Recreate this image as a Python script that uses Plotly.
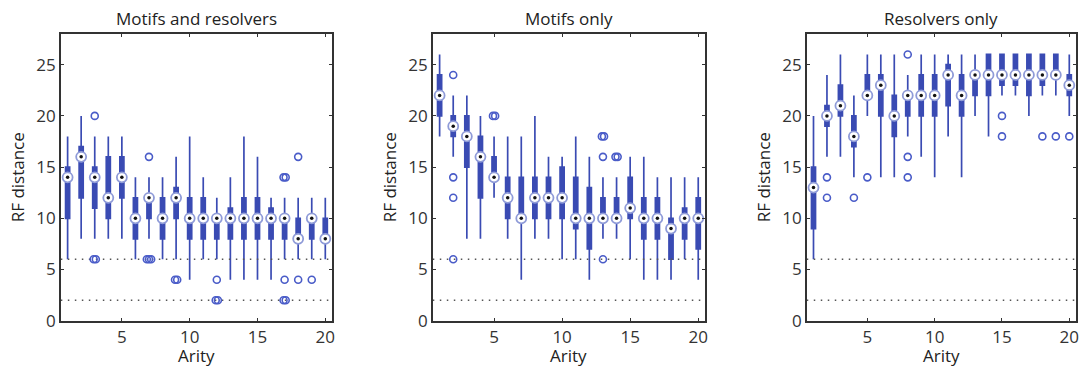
import plotly.graph_objects as go

arity = list(range(1, 21))
titles = ["Motifs and resolvers", "Motifs only", "Resolvers only"]
thresholds = [2, 6]

# Motifs and resolvers
mr_lo = [6, 8, 8, 8, 8, 6, 8, 6, 6, 4, 6, 6, 4, 4, 4, 4, 6, 6, 6, 6]
mr_q1 = [10, 12, 11, 10, 12, 8, 10, 8, 10, 8, 8, 8, 8, 8, 8, 8, 8, 8, 8, 8]
mr_med = [14, 16, 14, 12, 14, 10, 12, 10, 12, 10, 10, 10, 10, 10, 10, 10, 10, 8, 10, 8]
mr_q3 = [15, 17, 15, 16, 16, 12, 12, 12, 13, 12, 12, 10, 11, 12, 12, 11, 10, 10, 10, 10]
mr_hi = [18, 20, 18, 18, 18, 14, 14, 14, 16, 18, 14, 12, 14, 18, 16, 12, 12, 12, 12, 12]
mr_out_x = [3, 3, 3, 7, 7, 7, 7, 9, 9, 12, 12, 12, 17, 17, 17, 17, 17, 18, 18, 19]
mr_out_y = [20, 6, 6, 16, 6, 6, 6, 4, 4, 4, 2, 2, 14, 14, 4, 2, 2, 16, 4, 4]

# Motifs only
mo_lo = [18, 16, 8, 8, 12, 8, 4, 8, 8, 6, 6, 4, 8, 8, 6, 4, 4, 4, 6, 4]
mo_q1 = [20, 18, 15, 12, 14, 10, 10, 10, 10, 10, 9, 7, 10, 10, 10, 8, 8, 6, 8, 7]
mo_med = [22, 19, 18, 16, 14, 12, 10, 12, 12, 12, 10, 10, 10, 10, 11, 10, 10, 9, 10, 10]
mo_q3 = [24, 20, 20, 18, 16, 14, 14, 14, 14, 15, 14, 13, 12, 12, 14, 12, 12, 10, 11, 12]
mo_hi = [26, 22, 22, 20, 18, 18, 18, 20, 16, 16, 18, 16, 14, 14, 16, 16, 14, 14, 14, 14]
mo_out_x = [2, 2, 2, 2, 5, 5, 13, 13, 13, 13, 14, 14]
mo_out_y = [24, 14, 12, 6, 20, 20, 18, 18, 16, 6, 16, 16]

# Resolvers only
ro_lo = [6, 16, 16, 14, 20, 14, 14, 18, 16, 14, 18, 14, 20, 18, 22, 22, 20, 22, 22, 20]
ro_q1 = [9, 19, 20, 17, 22, 20, 18, 20, 20, 20, 21, 20, 22, 22, 23, 23, 22, 23, 24, 22]
ro_med = [13, 20, 21, 18, 22, 23, 20, 22, 22, 22, 24, 22, 24, 24, 24, 24, 24, 24, 24, 23]
ro_q3 = [15, 21, 23, 20, 24, 24, 22, 22, 24, 24, 25, 24, 24, 26, 26, 26, 26, 26, 26, 24]
ro_hi = [20, 24, 26, 22, 26, 26, 26, 24, 26, 26, 26, 26, 26, 26, 26, 26, 26, 26, 26, 26]
ro_out_x = [2, 2, 4, 5, 8, 8, 8, 15, 15, 18, 19, 20]
ro_out_y = [14, 12, 12, 14, 26, 16, 14, 20, 18, 18, 18, 18]

panels = [
    (mr_lo, mr_q1, mr_med, mr_q3, mr_hi, mr_out_x, mr_out_y),
    (mo_lo, mo_q1, mo_med, mo_q3, mo_hi, mo_out_x, mo_out_y),
    (ro_lo, ro_q1, ro_med, ro_q3, ro_hi, ro_out_x, ro_out_y),
]

W, H = 1087, 368
K = 0.971  # observed vertical rendering factor
BLUE = "#3a4bb3"
AXC = "#333333"
FONT = "Open Sans"
FS = 17


def py(px):
    return 1 - (px / K) / H


x_px = [(61, 333), (434, 707), (809, 1079)]
y_dom = [py(321), py(34)]

fig = go.Figure()


def jitter(xs, ys):
    out = []
    for i, (x, y) in enumerate(zip(xs, ys)):
        same = [j for j, (a, b) in enumerate(zip(xs, ys)) if a == x and b == y]
        n = len(same)
        k = same.index(i)
        out.append(x + (k - (n - 1) / 2) * 0.16)
    return out


for p, (lo, q1, med, q3, hi, ox, oy) in enumerate(panels):
    sfx = "" if p == 0 else str(p + 1)
    xa, ya = "x" + sfx, "y" + sfx
    for t in thresholds:
        fig.add_trace(go.Scatter(
            x=[0.5, 20.5], y=[t, t], mode="lines", xaxis=xa, yaxis=ya,
            line=dict(color="#555555", width=1.5, dash="1.5px,5.5px"),
            hoverinfo="skip", showlegend=False))
    fig.add_trace(go.Box(
        x=arity, lowerfence=lo, q1=q1, median=med, q3=q3, upperfence=hi,
        xaxis=xa, yaxis=ya, width=0.3, whiskerwidth=0,
        fillcolor=BLUE, line=dict(color=BLUE, width=1.7),
        boxpoints=False, showlegend=False))
    fig.add_trace(go.Scatter(
        x=jitter(ox, oy), y=oy, mode="markers", xaxis=xa, yaxis=ya,
        marker=dict(symbol="circle-open", size=7, color="#4a5cc8",
                    line=dict(width=1.6)),
        showlegend=False))
    fig.add_trace(go.Scatter(
        x=arity, y=med, mode="markers", xaxis=xa, yaxis=ya,
        marker=dict(symbol="circle", size=10, color="white",
                    line=dict(color="#8f9bd8", width=1.8)),
        showlegend=False))
    fig.add_trace(go.Scatter(
        x=arity, y=med, mode="markers", xaxis=xa, yaxis=ya,
        marker=dict(symbol="circle", size=3.5, color="#111111"),
        showlegend=False))

    dom = [x_px[p][0] / W, x_px[p][1] / W]
    axis_common = dict(
        showline=True, linecolor=AXC, linewidth=1.5, mirror="ticks",
        ticks="inside", ticklen=3, tickwidth=1, tickcolor=AXC,
        showgrid=False, zeroline=False,
        tickfont=dict(family=FONT, size=FS, color=AXC))
    fig.update_layout(**{
        "xaxis" + sfx: dict(domain=dom, range=[0.5, 20.5], tickvals=[5, 10, 15, 20],
                            anchor=ya, **axis_common),
        "yaxis" + sfx: dict(domain=y_dom, range=[0, 28], tickvals=[0, 5, 10, 15, 20, 25],
                            anchor=xa, **axis_common),
    })
    cx = (dom[0] + dom[1]) / 2
    fig.add_annotation(text=titles[p], x=cx, y=py(19), xref="paper", yref="paper",
                       showarrow=False, xanchor="center", yanchor="middle",
                       font=dict(family=FONT, size=FS, color="#222222"))
    fig.add_annotation(text="Arity", x=cx, y=py(356), xref="paper", yref="paper",
                       showarrow=False, xanchor="center", yanchor="middle",
                       font=dict(family=FONT, size=FS, color="#222222"))
    fig.add_annotation(text="RF distance", x=(x_px[p][0] - 44) / W, y=(y_dom[0] + y_dom[1]) / 2,
                       xref="paper", yref="paper", textangle=-90,
                       showarrow=False, xanchor="center", yanchor="middle",
                       font=dict(family=FONT, size=FS, color="#222222"))

fig.update_layout(
    width=W, height=H, margin=dict(l=0, r=0, t=0, b=0),
    paper_bgcolor="white", plot_bgcolor="white", showlegend=False,
)

fig.write_html("out.html")
